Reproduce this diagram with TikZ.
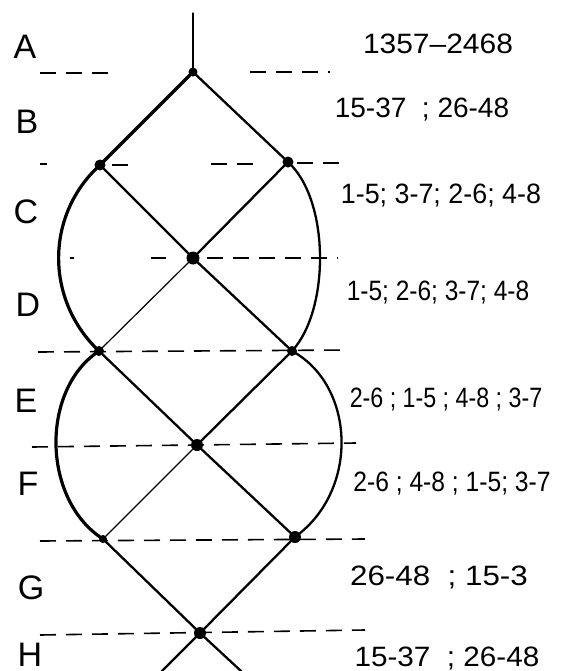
\documentclass[tikz,border=0pt]{standalone}
\usepackage{fontspec}
\setmainfont{Liberation Sans}
\begin{document}
\begin{tikzpicture}[x=0.5pt,y=-0.5pt,
  dot/.style={circle,fill=black,inner sep=0pt,minimum size=#1},
  dot/.default=4pt,
  strand/.style={line width=1.15pt,line cap=round},
  thickstrand/.style={line width=1.6pt,line cap=round},
  thinstrand/.style={line width=0.6pt,line cap=round},
  guide/.style={line width=0.8pt,dash pattern=on 8pt off 5pt},
  lvl/.style={font=\fontsize{17}{17}\selectfont,inner sep=0pt},
  pair/.style={font=\fontsize{14}{14}\selectfont,inner sep=0pt}]
\useasboundingbox (0,0) rectangle (566,671);
% junction dots
\node[dot=4.5pt] (a)  at (193,72)  {};
\node[dot=5.5pt] (bl) at (100,165) {};
\node[dot=5.5pt] (br) at (288,162) {};
\node[dot=6.5pt] (c)  at (193,258) {};
\node[dot=5pt]   (dl) at (99,351)  {};
\node[dot=5pt]   (dr) at (292,351) {};
\node[dot=6pt]   (e)  at (197,445) {};
\node[dot=4pt]   (fl) at (103,539) {};
\node[dot=6pt]   (fr) at (295,537) {};
\node[dot=6pt]   (g)  at (200,633) {};
\coordinate (top) at (193,13);
\coordinate (hl) at (162,671);
\coordinate (hr) at (241,671);
% guide lines
\draw[guide] (40,73) -- (116,73);
\draw[guide] (250,72) -- (330,72);
\draw[guide] (40,164) -- (47,164);
\draw[guide] (112,165) -- (130,165);
\draw[guide] (211,164) -- (262,164);
\draw[guide] (297,163) -- (340,163);
\draw[line width=0.6pt] (70,258) -- (74,258);
\draw[guide] (151,258) -- (166,258);
\draw[guide] (207,258) -- (338,258);
\draw[guide] (38,352) -- (347,350);
\draw[guide] (32,447) -- (356,443);
\draw[guide] (40,541) -- (365,539);
\draw[guide] (40,635) -- (365,630);
% strands
\draw[thinstrand] (top) -- (a.center);
\draw[thickstrand] (a.center) -- (bl.center);
\draw[strand] (a.center) -- (br.center);
\draw[strand] (bl.center) -- (c.center);
\draw[strand] (br.center) -- (c.center);
\draw[thinstrand] (c.center) -- (dl.center);
\draw[strand] (c.center) -- (dr.center);
\draw[thickstrand] (bl.center) .. controls (45,215) and (45,300) .. (dl.center);
\draw[strand] (br.center) .. controls (330,200) and (330,310) .. (dr.center);
\draw[strand] (dl.center) -- (e.center);
\draw[strand] (dr.center) -- (e.center);
\draw[thinstrand] (e.center) -- (fl.center);
\draw[strand] (e.center) -- (fr.center);
\draw[thickstrand] (dl.center) .. controls (40,390) and (42,500) .. (fl.center);
\draw[strand] (dr.center) .. controls (355,385) and (360,490) .. (fr.center);
\draw[strand] (fl.center) -- (g.center);
\draw[strand] (fr.center) -- (g.center);
\draw[strand] (g.center) -- (hl);
\draw[strand] (g.center) -- (hr);
% level letters
\node[lvl] (la) at (25,47)  {A};
\node[lvl] (lb) at (27,122) {B};
\node[lvl] (lc) at (26,212) {C};
\node[lvl] (ld) at (28,305) {D};
\node[lvl] (le) at (26,401) {E};
\node[lvl] (lf) at (28,484) {F};
\node[lvl] (lg) at (31,588) {G};
\node[lvl] (lh) at (30,655) {H};
% pairings
\node[pair] (ta) at (438,44)  {\scalebox{1.07}[1]{1357–2468}};
\node[pair] (tb) at (422,110) {15-37 \ ; 26-48};
\node[pair] (tc) at (441,196) {\scalebox{0.96}[1]{1-5; 3-7; 2-6; 4-8}};
\node[pair] (td) at (438,293) {\scalebox{0.875}[1]{1-5; 2-6; 3-7; 4-8}};
\node[pair] (te) at (446,400) {\scalebox{0.83}[1]{2-6 ; 1-5 ; 4-8 ; 3-7}};
\node[pair] (tf) at (452,484) {\scalebox{0.88}[1]{2-6 ; 4-8 ; 1-5; 3-7}};
\node[pair] (tg) at (439,578) {\scalebox{1.12}[1]{26-48 \ ; 15-3}};
\node[pair] (th) at (447,659) {\scalebox{1.06}[1]{15-37 \ ; 26-48}};
\end{tikzpicture}
\end{document}
